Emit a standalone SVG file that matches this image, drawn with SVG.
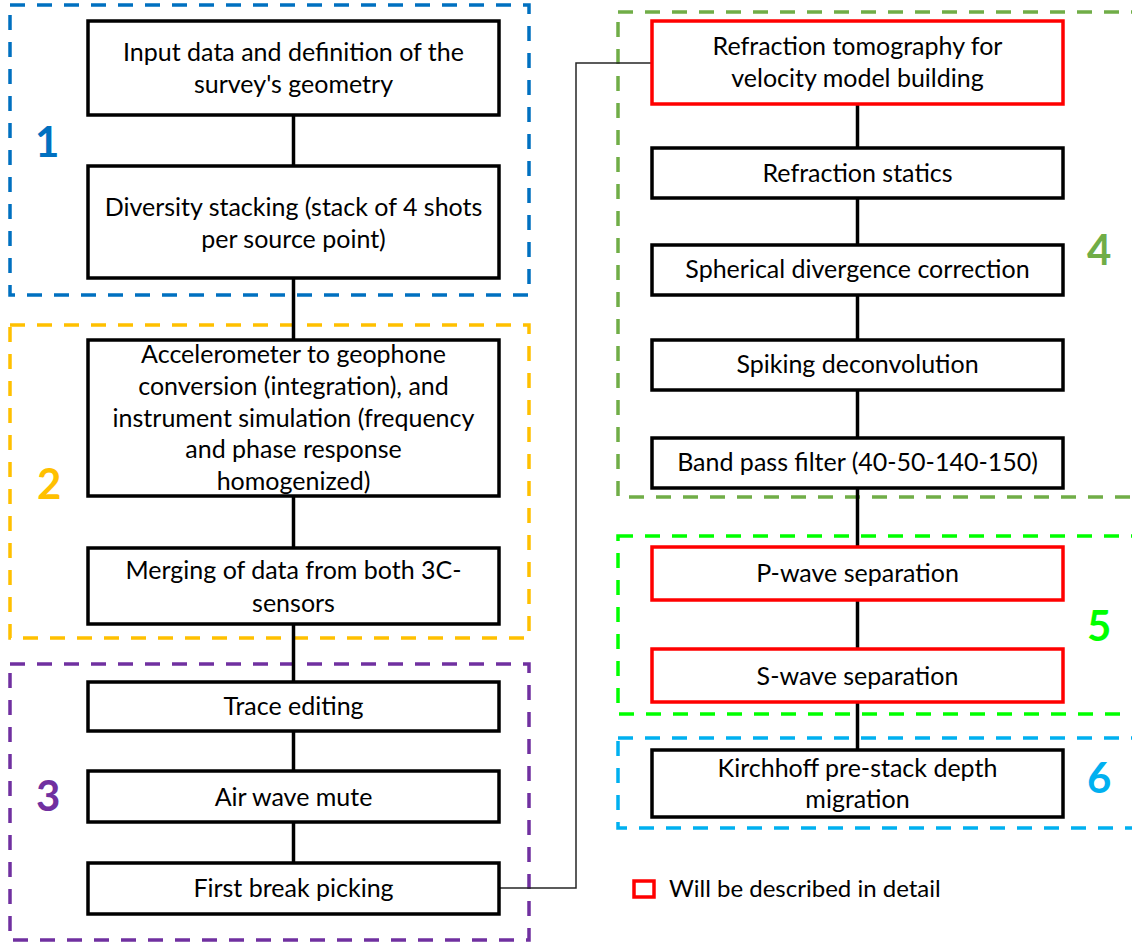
<svg xmlns="http://www.w3.org/2000/svg" width="1132" height="943" viewBox="0 0 1132 943">
<style>
.bg{fill:#ffffff}
.box{fill:#ffffff;stroke:#000000;stroke-width:3.5}
.rbox{fill:#ffffff;stroke:#ff0000;stroke-width:3.5}
.grp{fill:none;stroke-width:3.5;stroke-dasharray:15 12}
.t{font-family:Lato,"Open Sans","Liberation Sans",sans-serif;font-size:25px;fill:#000000;text-anchor:middle}
.lt{font-family:Lato,"Open Sans","Liberation Sans",sans-serif;font-size:24px;fill:#000000}
.num{font-family:Lato,"Liberation Sans",sans-serif;font-size:42px;font-weight:bold}
.c{stroke:#000000;stroke-width:3.5;fill:none}
.thin{stroke:#262626;stroke-width:1.5;fill:none}
</style>
<rect class="bg" x="0" y="0" width="1132" height="943"/>

<g id="groups">
  <rect id="group1" class="grp" x="10" y="5" width="519" height="290" stroke="#0070C0"/>
  <rect id="group2" class="grp" x="10" y="325" width="519" height="313" stroke="#FFC000"/>
  <rect id="group3" class="grp" x="10" y="664" width="519" height="276" stroke="#7030A0"/>
  <rect id="group4" class="grp" x="618" y="12" width="540" height="485" stroke="#70AD47"/>
  <rect id="group5" class="grp" x="618" y="536" width="540" height="178" stroke="#00FF00"/>
  <rect id="group6" class="grp" x="618" y="738" width="540" height="90" stroke="#00B0F0"/>
  <text class="num" x="35" y="157" fill="#0070C0">1</text>
  <text class="num" x="37" y="499" fill="#FFC000">2</text>
  <text class="num" x="36" y="811" fill="#7030A0">3</text>
  <text class="num" x="1087" y="265" fill="#70AD47">4</text>
  <text class="num" x="1087" y="641" fill="#00FF00">5</text>
  <text class="num" x="1087" y="793" fill="#00B0F0">6</text>
</g>

<g id="connectors">
  <line class="c" x1="293.5" y1="115" x2="293.5" y2="166"/>
  <line class="c" x1="293.5" y1="278" x2="293.5" y2="340"/>
  <line class="c" x1="293.5" y1="496" x2="293.5" y2="548"/>
  <line class="c" x1="293.5" y1="624" x2="293.5" y2="682"/>
  <line class="c" x1="293.5" y1="731" x2="293.5" y2="771"/>
  <line class="c" x1="293.5" y1="822" x2="293.5" y2="863"/>
  <polyline class="thin" points="499,888 576,888 576,63 652,63"/>
  <line class="c" x1="857.5" y1="104" x2="857.5" y2="148"/>
  <line class="c" x1="857.5" y1="198" x2="857.5" y2="245"/>
  <line class="c" x1="857.5" y1="295" x2="857.5" y2="340"/>
  <line class="c" x1="857.5" y1="390" x2="857.5" y2="438"/>
  <line class="c" x1="857.5" y1="488" x2="857.5" y2="547"/>
  <line class="c" x1="857.5" y1="600" x2="857.5" y2="649"/>
  <line class="c" x1="857.5" y1="702" x2="857.5" y2="750"/>
</g>

<g id="n1">
  <rect class="box" x="88" y="21" width="411" height="94"/>
  <text class="t" x="293.5" y="61">Input data and definition of the</text>
  <text class="t" x="293.5" y="93">survey's geometry</text>
</g>
<g id="n2">
  <rect class="box" x="88" y="166" width="411" height="112"/>
  <text class="t" x="293.5" y="216">Diversity stacking (stack of 4 shots</text>
  <text class="t" x="293.5" y="248">per source point)</text>
</g>
<g id="n3">
  <rect class="box" x="88" y="340" width="411" height="156"/>
  <text class="t" x="293.5" y="363">Accelerometer to geophone</text>
  <text class="t" x="293.5" y="395">conversion (integration), and</text>
  <text class="t" x="293.5" y="427">instrument simulation (frequency</text>
  <text class="t" x="293.5" y="458">and phase response</text>
  <text class="t" x="293.5" y="490">homogenized)</text>
</g>
<g id="n4">
  <rect class="box" x="88" y="548" width="411" height="76"/>
  <text class="t" x="293.5" y="579">Merging of data from both 3C-</text>
  <text class="t" x="293.5" y="612">sensors</text>
</g>
<g id="n5">
  <rect class="box" x="88" y="682" width="411" height="49"/>
  <text class="t" x="293.5" y="715">Trace editing</text>
</g>
<g id="n6">
  <rect class="box" x="88" y="771" width="411" height="51"/>
  <text class="t" x="293.5" y="806">Air wave mute</text>
</g>
<g id="n7">
  <rect class="box" x="88" y="863" width="411" height="51"/>
  <text class="t" x="293.5" y="897">First break picking</text>
</g>

<g id="n8">
  <rect class="rbox" x="652" y="21" width="411" height="83"/>
  <text class="t" x="857.5" y="55">Refraction tomography for</text>
  <text class="t" x="857.5" y="87">velocity model building</text>
</g>
<g id="n9">
  <rect class="box" x="652" y="148" width="411" height="50"/>
  <text class="t" x="857.5" y="182">Refraction statics</text>
</g>
<g id="n10">
  <rect class="box" x="652" y="245" width="411" height="50"/>
  <text class="t" x="857.5" y="278">Spherical divergence correction</text>
</g>
<g id="n11">
  <rect class="box" x="652" y="340" width="411" height="50"/>
  <text class="t" x="857.5" y="373">Spiking deconvolution</text>
</g>
<g id="n12">
  <rect class="box" x="652" y="438" width="411" height="50"/>
  <text class="t" x="857.5" y="471">Band pass filter (40-50-140-150)</text>
</g>
<g id="n13">
  <rect class="rbox" x="652" y="547" width="411" height="53"/>
  <text class="t" x="857.5" y="582">P-wave separation</text>
</g>
<g id="n14">
  <rect class="rbox" x="652" y="649" width="411" height="53"/>
  <text class="t" x="857.5" y="685">S-wave separation</text>
</g>
<g id="n15">
  <rect class="box" x="652" y="750" width="411" height="67"/>
  <text class="t" x="857.5" y="777">Kirchhoff pre-stack depth</text>
  <text class="t" x="857.5" y="808">migration</text>
</g>

<g id="legend">
  <rect x="634" y="881" width="20" height="16" fill="#ffffff" stroke="#ff0000" stroke-width="3.5"/>
  <text class="lt" x="669" y="897">Will be described in detail</text>
</g>
</svg>
